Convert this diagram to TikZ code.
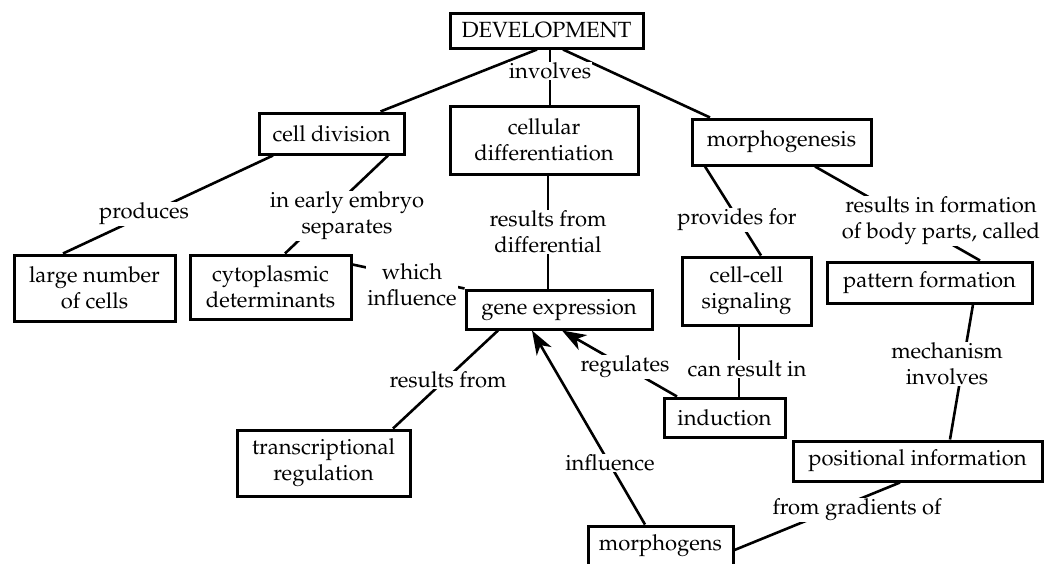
\documentclass[tikz,border=0pt]{standalone}
\usepackage[T1]{fontenc}
\renewcommand{\rmdefault}{ppl}
\usetikzlibrary{arrows.meta}
\tikzset{
  box/.style={draw, line width=3pt, align=center, inner sep=0pt},
  lab/.style={align=center, inner sep=1pt, fill=white},
  conn/.style={line width=2.6pt},
  arr/.style={conn, -{Stealth[length=24pt,width=17pt,inset=7pt]}},
}
\begin{document}
\begin{tikzpicture}[x=1pt,y=-1pt,font=\fontsize{22}{26}\selectfont]
\useasboundingbox (0,0) rectangle (1053,563);
\clip (0,0) rectangle (1053,563);
% boxes
\node[box, minimum width=193pt, minimum height=35pt] (dev) at (546.5,30.5) {DEVELOPMENT};
\node[box, minimum width=145pt, minimum height=41pt] (celldiv) at (331.5,133.5) {cell division};
\node[box, minimum width=188pt, minimum height=68pt] (celldiff) at (544,140) {cellular\\differentiation};
\node[box, minimum width=179pt, minimum height=46pt] (morph) at (781.5,142) {morphogenesis};
\node[box, minimum width=161pt, minimum height=66pt] (large) at (94.5,288) {large number\\of cells};
\node[box, minimum width=161pt, minimum height=64pt] (cyto) at (270.5,287) {cytoplasmic\\determinants};
\node[box, minimum width=186pt, minimum height=39pt] (gene) at (559,309.5) {gene expression};
\node[box, minimum width=173pt, minimum height=66pt] (trans) at (323.5,463) {transcriptional\\regulation};
\node[box, minimum width=129pt, minimum height=68pt] (cellcell) at (746.5,291) {cell-cell\\signaling};
\node[box, minimum width=205pt, minimum height=41pt] (pattern) at (929.5,282.5) {pattern formation};
\node[box, minimum width=121pt, minimum height=39pt] (induction) at (724.5,417.5) {induction};
\node[box, minimum width=249pt, minimum height=40pt] (posinfo) at (917.5,461) {positional information};
\node[box, minimum width=145pt, minimum height=40pt] (morphogens) at (660.5,546) {morphogens};
% connectors
\draw[conn] ([xshift=-9.5pt]dev.south) -- ([xshift=49pt]celldiv.north);
\draw[conn] ([xshift=3.5pt]dev.south) -- ([xshift=3.5pt]dev.south |- celldiff.north);
\draw[conn] ([xshift=16.5pt]dev.south) -- ([xshift=-71.5pt]morph.north);
\draw[conn] ([xshift=-58.5pt]celldiv.south) -- ([xshift=-31.5pt]large.north);
\draw[conn] ([xshift=56.5pt]celldiv.south) -- ([xshift=14.5pt]cyto.north);
\draw[conn] ([yshift=-11pt]cyto.north east) -- (gene.north west);
\draw[conn] ([xshift=4pt]celldiff.south) -- ([xshift=4pt]celldiff.south |- gene.north);
\draw[conn] ([xshift=-61pt]gene.south) -- ([xshift=69.5pt]trans.north);
\draw[conn] ([xshift=-76.5pt]morph.south) -- ([xshift=14.5pt]cellcell.north);
\draw[conn] ([xshift=33.5pt]morph.south) -- ([xshift=50.5pt]pattern.north);
\draw[conn] ([xshift=43.5pt]pattern.south) -- ([xshift=32.5pt]posinfo.north);
\draw[conn] ([xshift=-17.5pt]posinfo.south) -- ([yshift=-4pt]morphogens.east);
\draw[conn] ([xshift=-7.5pt]cellcell.south) -- ([xshift=-7.5pt]cellcell.south |- induction.north);
\draw[arr] ([xshift=-47.5pt]induction.north) -- ([xshift=3pt]gene.south);
\draw[arr] ([xshift=-15.5pt]morphogens.north) -- ([xshift=-27pt]gene.south);
% labels
\node[lab] (inv) at (550,71) {involves};
\node[lab] (prod) at (144,214) {produces};
\node[lab] (iee) at (347,216) {in early embryo\\separates};
\node[lab] (wi) at (412,285) {which\\influence};
\node[lab] (rfd) at (548,232) {results from\\differential};
\node[lab] (rf) at (448,380) {results from};
\node[lab] (pf) at (737,220) {provides for};
\node[lab] (rif) at (941,221) {results in formation\\of body parts, called};
\node[lab] (mech) at (947,364) {mechanism\\involves};
\node[lab] (crl) at (747,369) {can result in};
\node[lab] (reg) at (625,367) {regulates};
\node[lab] (infl) at (610,463) {influence};
\node[lab] (fgo) at (857,510) {from gradients of};
\end{tikzpicture}
\end{document}
